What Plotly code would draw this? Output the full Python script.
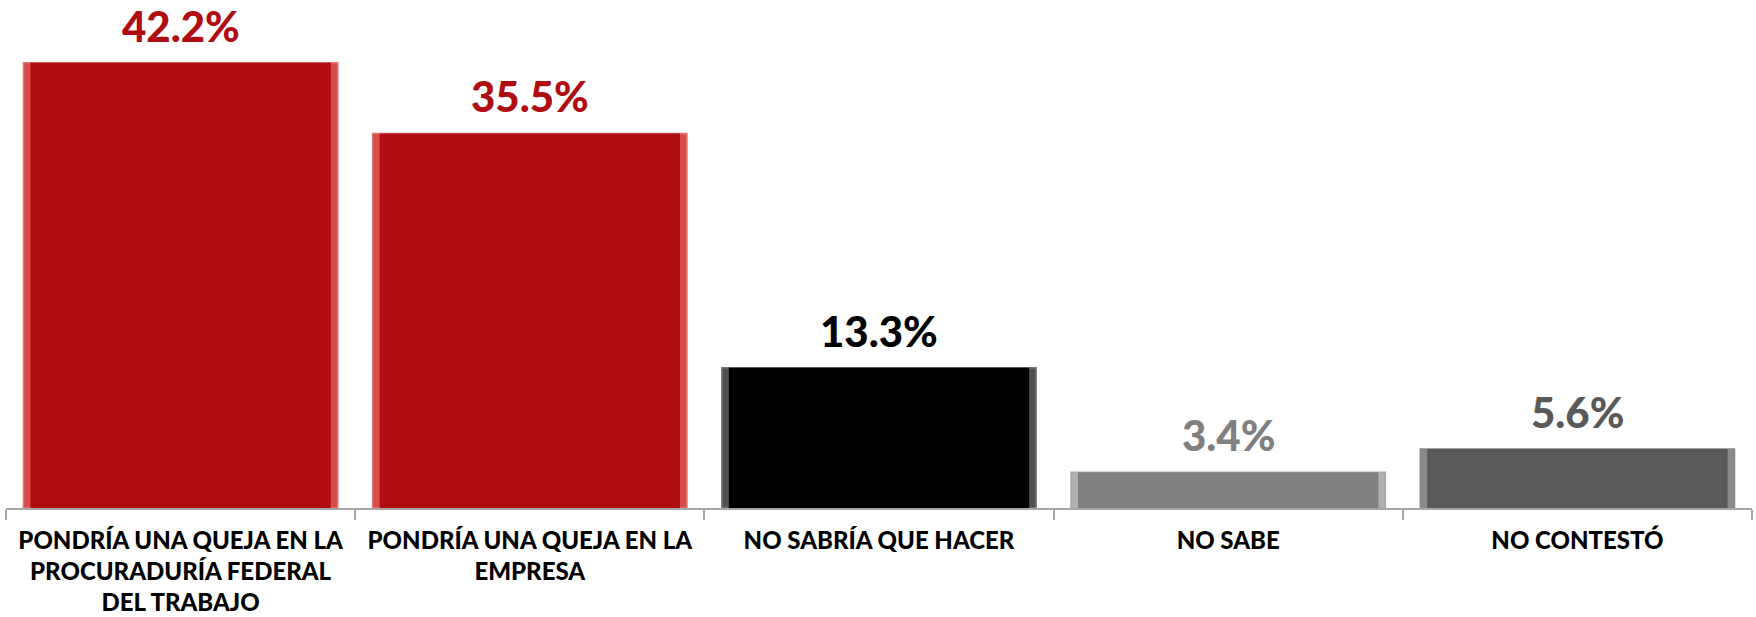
import plotly.graph_objects as go

categories = [
    "PONDRÍA UNA QUEJA EN LA<br>PROCURADURÍA FEDERAL<br>DEL TRABAJO",
    "PONDRÍA UNA QUEJA EN LA<br>EMPRESA",
    "NO SABRÍA QUE HACER",
    "NO SABE",
    "NO CONTESTÓ",
]
values = [42.2, 35.5, 13.3, 3.4, 5.6]
value_labels = ["42.2%", "35.5%", "13.3%", "3.4%", "5.6%"]
bar_colors = ["#B00D12", "#B00D12", "#000000", "#808080", "#595959"]
bevel_colors = ["#D84B4B", "#D84B4B", "#505050", "#B0B0B0", "#8A8A8A"]
edge_colors = ["#E37373", "#E37373", "#777777", "#A8A8A8", "#8A8A8A"]
label_colors = ["#B00D12", "#B00D12", "#000000", "#808080", "#595959"]

FONT = "Lato"

fig = go.Figure()
# bar body with bevelled (lighter) side edges
fig.add_trace(go.Bar(
    x=categories, y=values, width=0.9,
    marker=dict(color=bevel_colors, line=dict(color=edge_colors, width=1.5)),
    hoverinfo="skip",
))
fig.add_trace(go.Bar(
    x=categories, y=values, width=0.86,
    marker=dict(color=bar_colors, line=dict(width=0)),
    hoverinfo="skip",
))

for cat, v, lab, c in zip(categories, values, value_labels, label_colors):
    fig.add_annotation(x=cat, y=v, text=lab, showarrow=False,
                       yanchor="bottom", yshift=10,
                       font=dict(family=FONT, size=42, color=c, weight=900))

fig.update_layout(
    width=1756, height=617,
    margin=dict(l=6, r=4, t=20, b=109, autoexpand=False),
    plot_bgcolor="rgba(0,0,0,0)", paper_bgcolor="white",
    showlegend=False, barmode="overlay",
)
fig.update_xaxes(
    type="category", automargin=False,
    showline=True, linecolor="#A6A6A6", linewidth=2,
    ticks="outside", tickson="boundaries", ticklen=10, tickcolor="#A6A6A6", tickwidth=2,
    tickfont=dict(family=FONT, size=24, color="#000000", weight=900),
    showgrid=False, zeroline=False, ticklabelstandoff=10,
)
fig.update_yaxes(range=[0, 46.25], visible=False, showgrid=False, automargin=False)

fig.write_html("out.html", config={"displayModeBar": False},
               post_script="document.body.style.margin='0';")
